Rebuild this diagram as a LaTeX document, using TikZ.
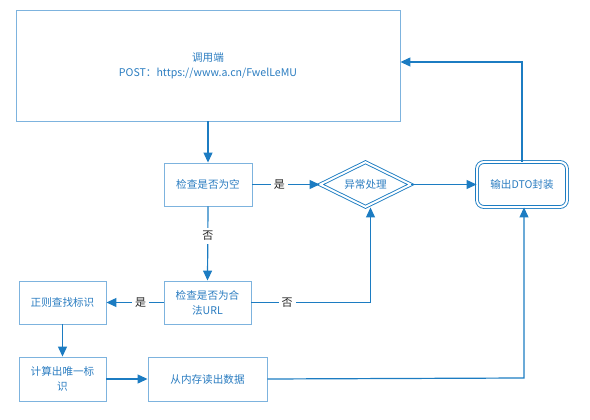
\documentclass[tikz,border=0pt]{standalone}
\usepackage{fontspec}
\setmainfont{Noto Sans CJK SC}
\usetikzlibrary{arrows.meta,shapes.geometric}
\definecolor{bordc}{HTML}{7DB3DE}
\definecolor{txtc}{HTML}{2A7CC0}
\definecolor{linec}{HTML}{1C7CC2}
\tikzset{
  box/.style={draw=bordc, line width=0.9pt, text=txtc, inner sep=2pt, align=center, font=\fontsize{10.6}{15}\selectfont},
  conn/.style={draw=linec, line width=1.2pt, -{Triangle[length=10pt,width=9pt]}},
  lbl/.style={fill=white, text=black!85, inner sep=3pt, font=\fontsize{11}{12}\selectfont}
}
\begin{document}
\begin{tikzpicture}[x=1pt,y=-1pt]
\useasboundingbox (0,0) rectangle (590,420);
\node[box, minimum width=384pt, minimum height=111pt] (top) at (208,65.5) {调用端\\POST：https://www.a.cn/FwelLeMU};
\node[box, minimum width=88pt, minimum height=43pt] (chk1) at (208,184.5) {检查是否为空};
\node[box, draw=linec, double=white, double distance=2pt, line width=0.9pt, diamond, aspect=2, minimum width=91pt, minimum height=45pt, inner sep=0pt] (exc) at (365.5,184.5) {异常处理};
\node[box, draw=linec, double=white, double distance=2pt, line width=0.9pt, rounded corners=7pt, minimum width=90pt, minimum height=45pt] (out) at (522,184.5) {输出DTO封装};
\node[box, minimum width=87pt, minimum height=43pt] (chk2) at (207.5,302.5) {检查是否为合\\法URL};
\node[box, minimum width=87pt, minimum height=43pt] (regex) at (62.5,302.5) {正则查找标识};
\node[box, minimum width=87pt, minimum height=44pt] (calc) at (62.5,379) {计算出唯一标\\识};
\node[box, minimum width=119pt, minimum height=44pt] (mem) at (207.5,379) {从内存读出数据};
\coordinate (c1) at (522,62);
\coordinate (c2) at (370.5,302.5);
\coordinate (c3) at (524,378);

\draw[conn] (top.south -| chk1) -- (chk1.north);
\draw[conn] (chk1.east) -- node[lbl, pos=0.4] {是} (exc.west);
\draw[conn] (exc.east) -- (out.west);
\draw[conn] (out.north) -- (c1) -- (top.east |- c1);
\draw[conn] (chk1.south) -- node[lbl, pos=0.4] {否} (chk2.north);
\draw[conn] (chk2.west) -- node[lbl, pos=0.4] {是} (regex.east);
\draw[conn] (chk2.east) -- node[lbl, pos=0.3] {否} (c2) -- (c2 |- exc.south);
\draw[conn] (regex.south) -- (calc.north);
\draw[conn] (calc.east) -- (mem.west);
\draw[conn] (mem.east) -- (c3) -- (c3 |- out.south);
\end{tikzpicture}
\end{document}
